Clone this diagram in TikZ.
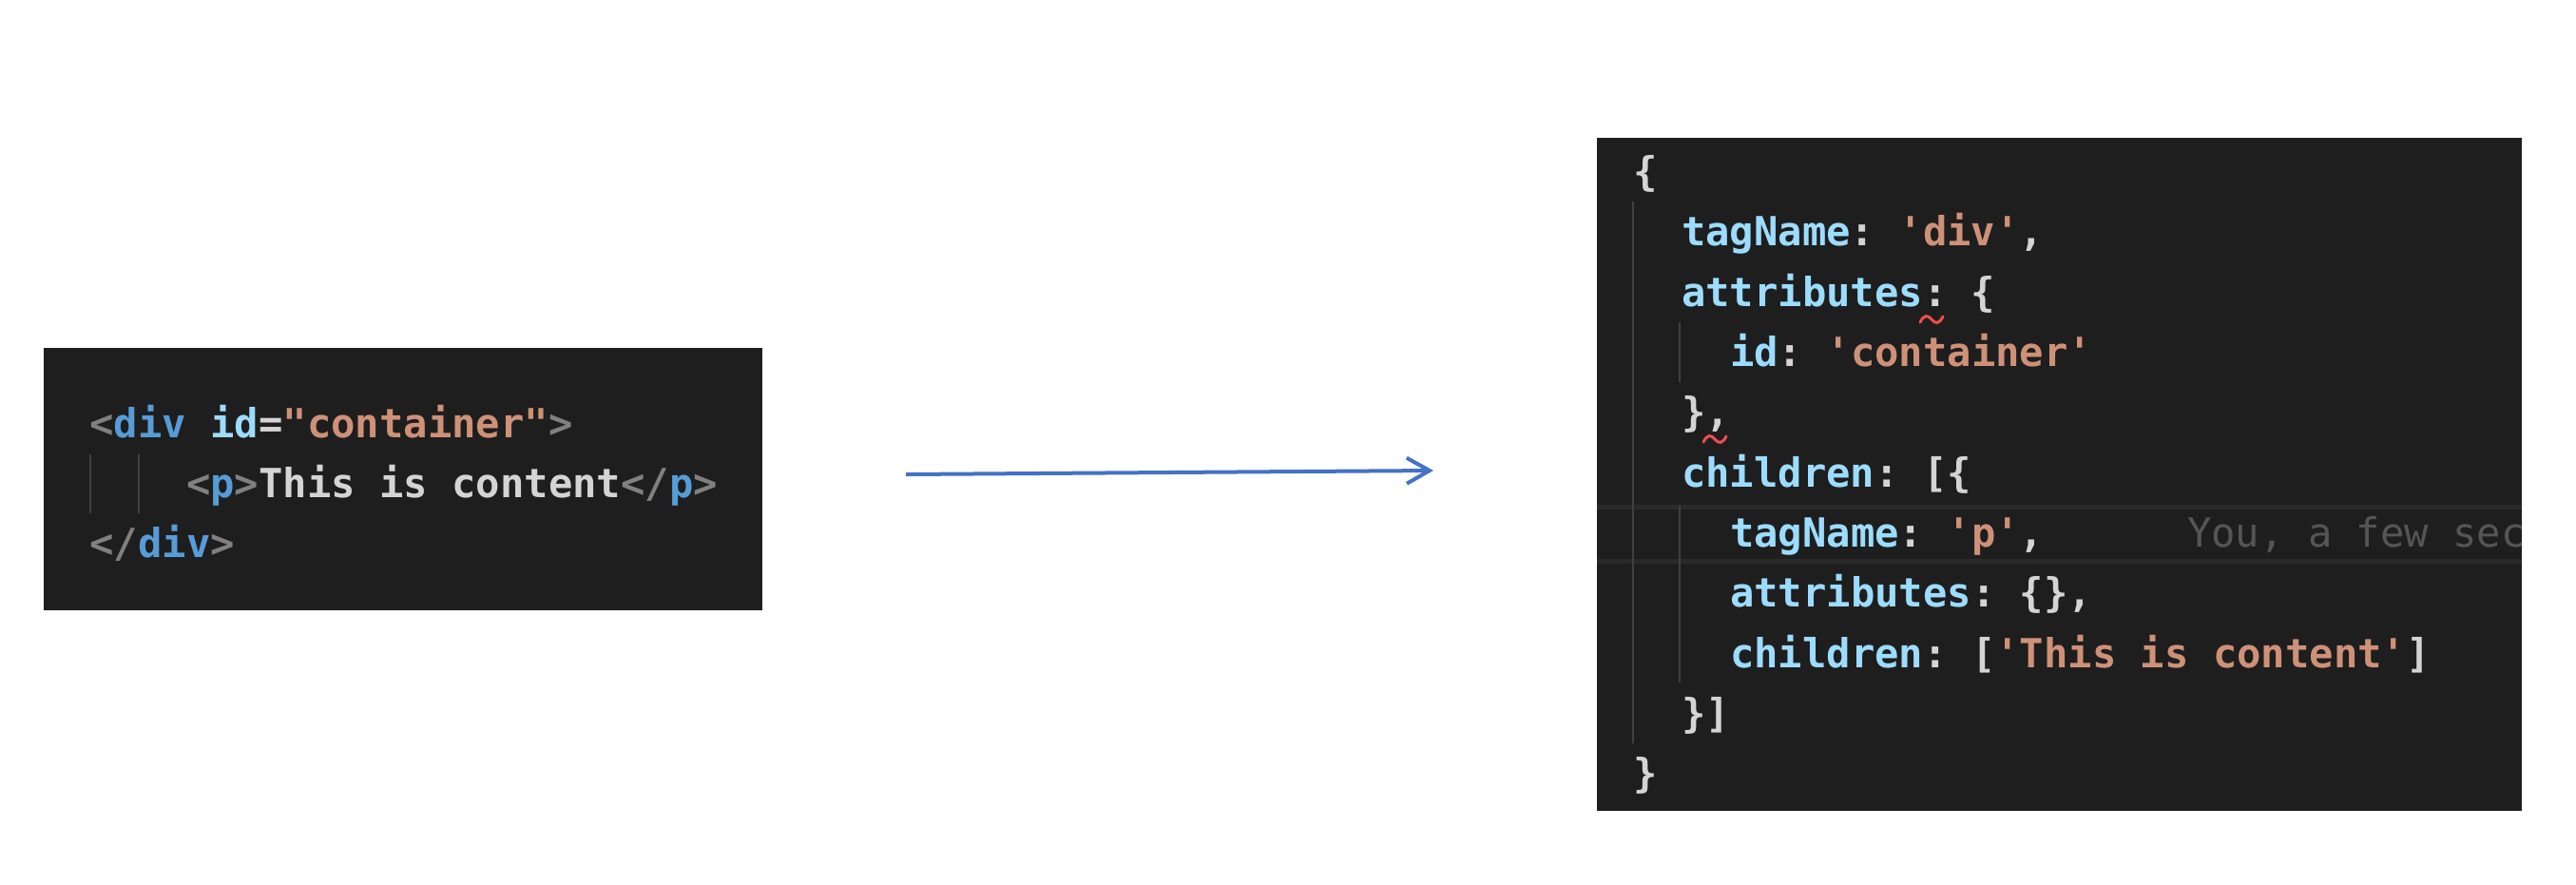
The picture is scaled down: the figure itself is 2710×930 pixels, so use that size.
\documentclass[tikz,border=0pt]{standalone}
\usepackage{fontspec}
\setmonofont{DejaVu Sans Mono}
\usetikzlibrary{arrows.meta}
\definecolor{edbg}{HTML}{1E1E1E}
\definecolor{keyc}{HTML}{9CDCFE}
\definecolor{strc}{HTML}{CE9178}
\definecolor{punc}{HTML}{D4D4D4}
\definecolor{tagc}{HTML}{569CD6}
\definecolor{angc}{HTML}{808080}
\definecolor{guidec}{HTML}{404040}
\definecolor{blamec}{HTML}{555555}
\definecolor{hlborder}{HTML}{2A2A2A}
\definecolor{squigc}{HTML}{F14C4C}
\definecolor{arrowc}{HTML}{4472C4}
\newcommand\cKey[1]{\textcolor{keyc}{#1}}
\newcommand\cStr[1]{\textcolor{strc}{#1}}
\newcommand\cPun[1]{\textcolor{punc}{#1}}
\newcommand\cTag[1]{\textcolor{tagc}{#1}}
\newcommand\cAng[1]{\textcolor{angc}{#1}}
\tikzset{
  codeline/.style={anchor=base west, inner sep=0pt, outer sep=0pt, font=\ttfamily\bfseries\fontsize{12}{14}\selectfont, text=punc},
  blameline/.style={anchor=base west, inner sep=0pt, outer sep=0pt, font=\ttfamily\fontsize{12}{14}\selectfont, text=blamec},
  editor/.style={fill=edbg, draw=none},
  guide/.style={draw=guidec, line width=0.02cm},
  hlline/.style={draw=hlborder, line width=0.05cm},
  squiggle/.style={draw=squigc, line width=0.03cm, line cap=round},
  convert/.style={draw=arrowc, line width=0.04cm, -{Straight Barb[length=0.24cm,width=0.27cm]}}
}
\begin{document}
\begin{tikzpicture}[x=0.01cm, y=-0.01cm]
\useasboundingbox[fill=white] (0,0) rectangle (2710,930);

% ---------- left editor (HTML) ----------
\fill[editor] (46,366) rectangle (802,642);
\draw[guide] (95,478) -- (95,540);
\draw[guide] (146,478) -- (146,540);
\node[codeline] (h1) at (94.5,460) {\cAng{<}\cTag{div} \cKey{id}\cPun{=}\cStr{"container"}\cAng{>}};
\node[codeline] (h2) at (196,523) {\cAng{<}\cTag{p}\cAng{>}\cPun{This is content}\cAng{</}\cTag{p}\cAng{>}};
\node[codeline] (h3) at (94.5,586) {\cAng{</}\cTag{div}\cAng{>}};

% ---------- arrow ----------
\coordinate (arrowstart) at (953,499);
\coordinate (arrowend) at (1508,495);
\draw[convert] (arrowstart) -- (arrowend);

% ---------- right editor (JS object) ----------
\fill[editor] (1680,145) rectangle (2653,853);
\draw[hlline] (1680,533) -- (2653,533);
\draw[hlline] (1680,590) -- (2653,590);
\draw[guide] (1718,212) -- (1718,782);
\draw[guide] (1767,339) -- (1767,402);
\draw[guide] (1767,532) -- (1767,718);

\node[codeline] (r0) at (1718,195) {\cPun{\{}};
\node[codeline] (r1) at (1769,258) {\cKey{tagName}\cPun{:} \cStr{'div'}\cPun{,}};
\node[codeline] (r2) at (1769,322) {\cKey{attributes}\cPun{:} \cPun{\{}};
\node[codeline] (r3) at (1820,385) {\cKey{id}\cPun{:} \cStr{'container'}};
\node[codeline] (r4) at (1769,448) {\cPun{\},}};
\node[codeline] (r5) at (1769,512) {\cKey{children}\cPun{:} \cPun{[\{}};
\node[codeline] (r6) at (1820,575) {\cKey{tagName}\cPun{:} \cStr{'p'}\cPun{,}};
\node[codeline] (r7) at (1820,638) {\cKey{attributes}\cPun{:} \cPun{\{\},}};
\node[codeline] (r8) at (1820,702) {\cKey{children}\cPun{:} \cPun{[}\cStr{'This is content'}\cPun{]}};
\node[codeline] (r9) at (1769,765) {\cPun{\}]}};
\node[codeline] (r10) at (1718,828) {\cPun{\}}};

\begin{scope}
  \clip (1680,145) rectangle (2653,853);
  \node[blameline] (blame) at (2301,575) {You, a few sec};
\end{scope}

\draw[squiggle] (2020,339) .. controls (2024,331) and (2028,331) .. (2032,336) .. controls (2036,341) and (2040,341) .. (2044,333);
\draw[squiggle] (1792,465) .. controls (1796,457) and (1800,457) .. (1804,462) .. controls (1808,467) and (1812,467) .. (1816,459);
\end{tikzpicture}
\end{document}
